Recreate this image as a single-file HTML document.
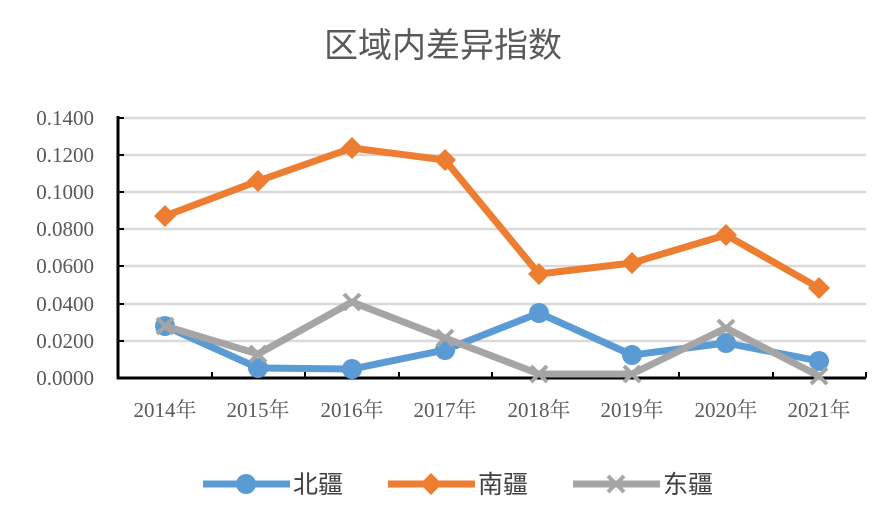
<!DOCTYPE html>
<html><head><meta charset="utf-8"><style>body{margin:0;background:#fff}</style></head>
<body>
<svg width="886" height="519" xmlns="http://www.w3.org/2000/svg" font-family="'Liberation Serif','Noto Serif CJK SC',serif">
<rect width="886" height="519" fill="#fff"/>
<text x="443" y="57" text-anchor="middle" font-size="34" fill="#595959" font-family="'Liberation Sans','Noto Sans CJK SC',sans-serif">区域内差异指数</text>
<g stroke="#d9d9d9" stroke-width="2.5">
<line x1="118" x2="866" y1="118" y2="118"/><line x1="118" x2="866" y1="155" y2="155"/>
<line x1="118" x2="866" y1="192" y2="192"/><line x1="118" x2="866" y1="229" y2="229"/>
<line x1="118" x2="866" y1="266" y2="266"/><line x1="118" x2="866" y1="304" y2="304"/>
<line x1="118" x2="866" y1="341" y2="341"/>
</g>
<g stroke="#000" stroke-width="3">
<line x1="118" y1="116" x2="118" y2="379"/><line x1="117" y1="378" x2="866" y2="378"/>
<g stroke-width="2">
<line x1="118" x2="124" y1="118" y2="118"/><line x1="118" x2="124" y1="155" y2="155"/>
<line x1="118" x2="124" y1="192" y2="192"/><line x1="118" x2="124" y1="229" y2="229"/>
<line x1="118" x2="124" y1="266" y2="266"/><line x1="118" x2="124" y1="304" y2="304"/>
<line x1="118" x2="124" y1="341" y2="341"/>
<line x1="212" x2="212" y1="372" y2="378"/><line x1="305" x2="305" y1="372" y2="378"/>
<line x1="399" x2="399" y1="372" y2="378"/><line x1="492" x2="492" y1="372" y2="378"/>
<line x1="586" x2="586" y1="372" y2="378"/><line x1="679" x2="679" y1="372" y2="378"/>
<line x1="773" x2="773" y1="372" y2="378"/><line x1="866" x2="866" y1="372" y2="378"/>
</g></g>
<g font-size="21" fill="#595959" text-anchor="end">
<text x="94" y="125">0.1400</text><text x="94" y="162">0.1200</text><text x="94" y="199">0.1000</text>
<text x="94" y="236">0.0800</text><text x="94" y="273">0.0600</text><text x="94" y="311">0.0400</text>
<text x="94" y="348">0.0200</text><text x="94" y="385">0.0000</text>
</g>
<g font-size="21" fill="#595959" text-anchor="middle">
<text x="165" y="417">2014年</text><text x="258" y="417">2015年</text><text x="352" y="417">2016年</text>
<text x="445" y="417">2017年</text><text x="539" y="417">2018年</text><text x="632" y="417">2019年</text>
<text x="726" y="417">2020年</text><text x="819" y="417">2021年</text>
</g>
<polyline fill="none" stroke="#5b9bd5" stroke-width="7" stroke-linejoin="round" points="165,326 258,368 352,369 445,350 539,313 632,355 726,343 819,361"/>
<g fill="#5b9bd5"><circle cx="165" cy="326" r="10"/><circle cx="258" cy="368" r="10"/><circle cx="352" cy="369" r="10"/><circle cx="445" cy="350" r="10"/><circle cx="539" cy="313" r="10"/><circle cx="632" cy="355" r="10"/><circle cx="726" cy="343" r="10"/><circle cx="819" cy="361" r="10"/></g>
<polyline fill="none" stroke="#ed7d31" stroke-width="7" stroke-linejoin="round" points="165,216 258,181 352,148 445,160 539,274 632,263 726,235 819,288"/>
<g fill="#ed7d31">
<polygon points="165,205 176,216 165,227 154,216"/><polygon points="258,170 269,181 258,192 247,181"/>
<polygon points="352,137 363,148 352,159 341,148"/><polygon points="445,149 456,160 445,171 434,160"/>
<polygon points="539,263 550,274 539,285 528,274"/><polygon points="632,252 643,263 632,274 621,263"/>
<polygon points="726,224 737,235 726,246 715,235"/><polygon points="819,277 830,288 819,299 808,288"/>
</g>
<polyline fill="none" stroke="#a5a5a5" stroke-width="7" stroke-linejoin="round" points="165,326 258,354 352,302 445,338 539,374 632,374 726,328 819,376"/>
<g stroke="#a5a5a5" stroke-width="4">
<path d="M157 318l16 16M173 318l-16 16"/><path d="M250 346l16 16M266 346l-16 16"/><path d="M344 294l16 16M360 294l-16 16"/><path d="M437 330l16 16M453 330l-16 16"/><path d="M531 366l16 16M547 366l-16 16"/><path d="M624 366l16 16M640 366l-16 16"/><path d="M718 320l16 16M734 320l-16 16"/><path d="M811 368l16 16M827 368l-16 16"/>
</g>
<g font-size="25" fill="#404040" font-family="'Liberation Sans','Noto Sans CJK SC',sans-serif">
<line x1="203" x2="290" y1="484" y2="484" stroke="#5b9bd5" stroke-width="7"/><circle cx="246" cy="484" r="10" fill="#5b9bd5"/>
<text x="293" y="493">北疆</text>
<line x1="388" x2="475" y1="484" y2="484" stroke="#ed7d31" stroke-width="7"/><polygon points="431,473 442,484 431,495 420,484" fill="#ed7d31"/>
<text x="478" y="493">南疆</text>
<line x1="573" x2="660" y1="484" y2="484" stroke="#a5a5a5" stroke-width="7"/><path d="M608 476l16 16M624 476l-16 16" stroke="#a5a5a5" stroke-width="4"/>
<text x="663" y="493">东疆</text>
</g>
</svg>
</body></html>
